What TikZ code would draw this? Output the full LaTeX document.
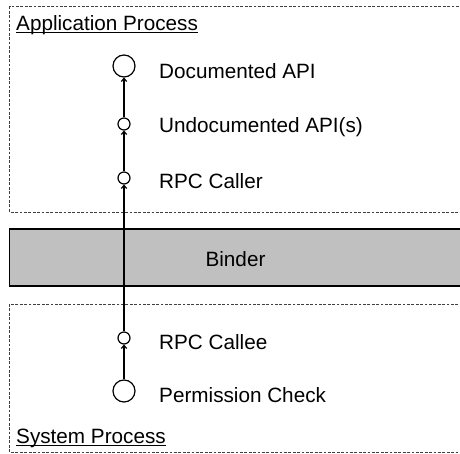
\documentclass[tikz,border=0pt]{standalone}
\usepackage{fontspec}
\setmainfont{Liberation Sans}
\usetikzlibrary{arrows.meta}

\definecolor{binderfill}{RGB}{192,192,192}

\tikzset{
  procbox/.style={draw=black!75, line width=0.8pt, dash pattern=on 2.8pt off 1.6pt},
  bigport/.style={circle, draw, line width=1.2pt, minimum size=22pt, inner sep=0pt},
  smallport/.style={circle, draw, line width=1.2pt, minimum size=12pt, inner sep=0pt},
  lbl/.style={anchor=base west, inner sep=0pt, font=\fontsize{20.7}{24}\selectfont},
  call/.style={line width=1.2pt, -{Straight Barb[length=3pt,width=5.5pt]}}
}

\begin{document}
\begin{tikzpicture}[x=1pt,y=-1pt]
  \useasboundingbox (0,0) rectangle (460,454);
  \clip (0,0) rectangle (460,454);

  % process boxes and binder
  \draw[procbox] (9.5,6.5) rectangle (462,212);
  \draw[procbox] (9.5,304) rectangle (462,452);
  \filldraw[fill=binderfill, line width=1.2pt] (9.5,229) rectangle (462,286);
  \node[lbl, anchor=base] (binder) at (235.5,266) {Binder};

  \node[lbl] (apptitle) at (16,31) {Application Process};
  \node[lbl] (systitle) at (16,443) {System Process};
  \foreach \t in {apptitle,systitle}
    \draw[line width=1pt] ([yshift=-2pt]\t.base west) -- ([yshift=-2pt]\t.base east);

  % call chain
  \node[bigport]   (docapi)  at (124,66)  {};
  \node[smallport] (undocapi) at (124,124) {};
  \node[smallport] (caller)  at (124,178) {};
  \node[smallport] (callee)  at (124,338) {};
  \node[bigport]   (permchk) at (124,391) {};

  \node[lbl] (docapitxt)   at (159,79)  {Documented API};
  \node[lbl] (undocapitxt) at (159,133) {Undocumented API(s)};
  \node[lbl] (callertxt)   at (159,189) {RPC Caller};
  \node[lbl] (calleetxt)   at (159,349) {RPC Callee};
  \node[lbl] (permchktxt)  at (159,402) {Permission Check};

  \draw[call] (permchk) -- (callee);
  \draw[call] (callee) -- (caller);
  \draw[call] (caller) -- (undocapi);
  \draw[call] (undocapi) -- (docapi);
\end{tikzpicture}
\end{document}
